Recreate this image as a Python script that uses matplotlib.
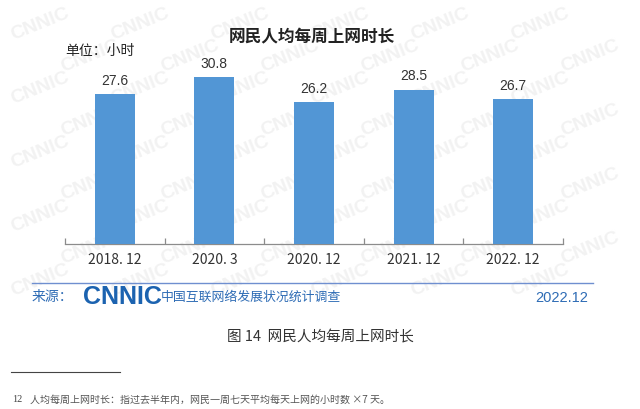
import matplotlib
matplotlib.use("Agg")
import matplotlib.pyplot as plt
import numpy as np

categories = ["2018. 12", "2020. 3", "2020. 12", "2021. 12", "2022. 12"]
values = [27.6, 30.8, 26.2, 28.5, 26.7]
value_labels = ["27.6", "30.8", "26.2", "28.5", "26.7"]

title = "网民人均每周上网时长"
unit = "单位：小时"
source_prefix = "来源："
source_logo = "CNNIC"
source_name = "中国互联网络发展状况统计调查"
source_date = "2022.12"
caption = "图 14  网民人均每周上网时长"
footnote_no = "12"
footnote = "人均每周上网时长：指过去半年内，网民一周七天平均每天上网的小时数 ×7 天。"

CJK = ["Noto Sans CJK SC", "DejaVu Sans"]
LAT = ["Liberation Sans", "DejaVu Sans"]
plt.rcParams['font.family'] = CJK

W, H = 640, 410
fig = plt.figure(figsize=(6.4, 4.1), dpi=100)
fig.patch.set_facecolor("white")

def fx(x):
    return x / W

def fy(y):
    return 1 - y / H

# faint repeated watermark, kept inside the picture
for row in range(10):
    for col in range(7):
        x = col * 100 + (row % 2) * 50 + 40
        y = row * 32 + 24
        if x > 610 or x < 30 or y > 310:
            continue
        fig.text(fx(x), fy(y), "CNNIC", fontsize=14, fontweight="bold",
                 color="#f2f2f2", rotation=22, ha="center", va="center",
                 family=LAT, zorder=-5)

ax = fig.add_axes([fx(65), fy(245), fx(563) - fx(65), fy(65) - fy(245)])
ax.set_zorder(2)
ax.set_facecolor("none")
x = np.arange(len(categories))
ax.bar(x, values, width=0.4, color="#5296d5", zorder=3)
ax.set_xlim(-0.5, len(categories) - 0.5)
ax.set_ylim(0, 180 / 5.42)
for xi, v, lab in zip(x, values, value_labels):
    ax.text(xi, v + 1.3, lab, ha="center", va="bottom", fontsize=10,
            color="#333333", family=LAT)

for s in ["top", "right", "left"]:
    ax.spines[s].set_visible(False)
ax.spines["bottom"].set_color("#8c8c8c")
ax.spines["bottom"].set_linewidth(0.9)
ax.set_yticks([])
ax.set_xticks(x)
ax.set_xticklabels(categories, fontsize=10, color="#333333", family=CJK)
ax.tick_params(axis="x", which="major", length=0, pad=6)
ax.set_xticks(np.arange(-0.5, len(categories)), minor=True)
ax.tick_params(axis="x", which="minor", direction="in", length=4,
               color="#8c8c8c", width=0.9)

fig.text(fx(312), fy(37), title, fontsize=12, fontweight="bold",
         color="#222222", ha="center", va="center")
fig.text(fx(65), fy(51), unit, fontsize=10, color="#222222",
         ha="left", va="center")

# source bar
fig.add_artist(plt.Line2D([fx(32), fx(593)], [fy(284), fy(284)],
                          color="#6f8fd0", linewidth=1.0))
fig.text(fx(32), fy(297), source_prefix, fontsize=10, color="#2e6cb5",
         ha="left", va="center")
fig.text(fx(83), fy(297), source_logo, fontsize=18, fontweight="heavy",
         color="#1c63b0", ha="left", va="center", family=LAT)
fig.text(fx(161), fy(297), source_name, fontsize=9.3, color="#2e6cb5",
         ha="left", va="center")
fig.text(fx(588), fy(298), source_date, fontsize=10.5, color="#2e6cb5",
         ha="right", va="center", family=LAT)

fig.text(fx(320), fy(337), caption, fontsize=10.5, color="#333333",
         ha="center", va="center")

fig.add_artist(plt.Line2D([fx(11), fx(120)], [fy(373), fy(373)],
                          color="#444444", linewidth=0.8))
fig.text(fx(12), fy(400), footnote_no, fontsize=7.5, color="#444444",
         ha="left", va="center", family=["Liberation Serif", "DejaVu Serif"])
fig.text(fx(30), fy(400), footnote, fontsize=7.2, color="#555555",
         ha="left", va="center")

fig.savefig("out.png", dpi=100)
